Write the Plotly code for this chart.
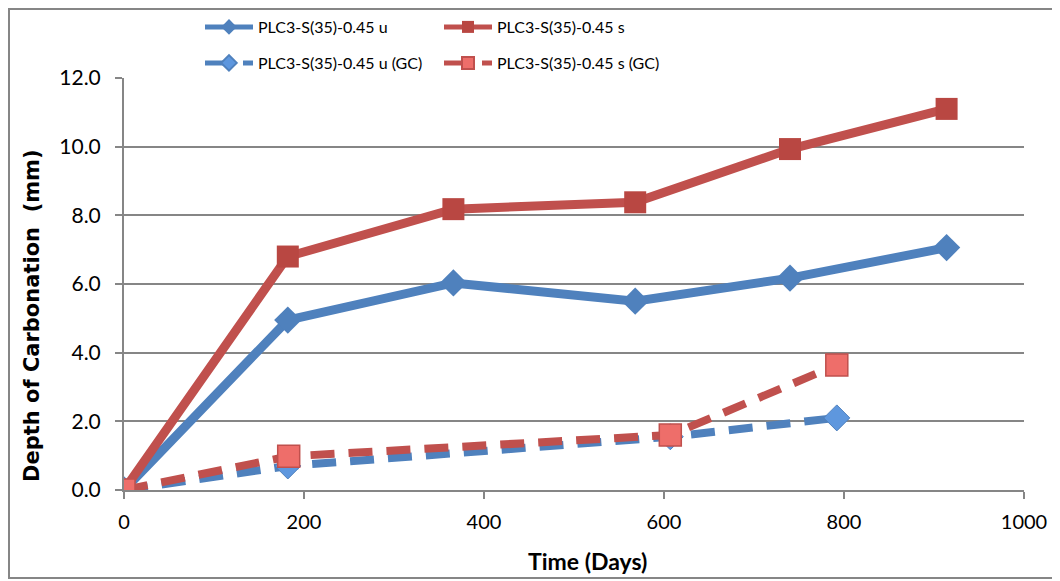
import plotly.graph_objects as go

# Data
days_u = [0, 182, 366, 568, 740, 914]
depth_u = [0.0, 4.95, 6.03, 5.50, 6.17, 7.06]

days_s = [0, 182, 366, 568, 740, 914]
depth_s = [0.0, 6.80, 8.18, 8.38, 9.93, 11.10]

days_u_gc = [0, 182, 607, 792]
depth_u_gc = [0.0, 0.70, 1.55, 2.10]

days_s_gc = [0, 183, 607, 792]
depth_s_gc = [0.0, 0.98, 1.60, 3.64]

names = ["PLC3-S(35)-0.45 u", "PLC3-S(35)-0.45 s",
         "PLC3-S(35)-0.45 u (GC)", "PLC3-S(35)-0.45 s (GC)"]

x_title = "Time (Days)"
y_title = "Depth of Carbonation  (mm)"

x_ticks = [0, 200, 400, 600, 800, 1000]
y_ticks = [0, 2, 4, 6, 8, 10, 12]

BLUE = "#4F81BD"
RED = "#C0504D"
HFONT = "Lato, sans-serif"
VFONT = "DejaVu Sans, sans-serif"

fig = go.Figure()
fig.add_trace(go.Scatter(
    x=days_u, y=depth_u, name=names[0], mode="lines+markers",
    line=dict(color=BLUE, width=9),
    marker=dict(symbol="diamond", size=21, color=BLUE),
    legend="legend"))
fig.add_trace(go.Scatter(
    x=days_s, y=depth_s, name=names[1], mode="lines+markers",
    line=dict(color=RED, width=9),
    marker=dict(symbol="square", size=22, color="#B94742"),
    legend="legend"))
fig.add_trace(go.Scatter(
    x=days_u_gc, y=depth_u_gc, name=names[2], mode="lines+markers",
    line=dict(color=BLUE, width=8, dash="24px,14px"),
    marker=dict(symbol="diamond", size=20, color="#5E97DE",
                line=dict(color="#4F81BD", width=1)),
    legend="legend2"))
fig.add_trace(go.Scatter(
    x=days_s_gc, y=depth_s_gc, name=names[3], mode="lines+markers",
    line=dict(color=RED, width=8, dash="24px,14px"),
    marker=dict(symbol="square", size=22, color="#EE6E6A",
                line=dict(color="#C0504D", width=1.5)),
    legend="legend2"))

# figure sits at an 8px page offset, so size/margins compensate for it
L, R, T, B = 116, 36, 70, 91
W, H = 1052, 573
PW, PH = W - L - R, H - T - B


def px_x(page_x):
    return (page_x - 8 - L) / PW


def px_y(page_y):
    return 1 + (T - (page_y - 8)) / PH


legend_common = dict(orientation="h", xanchor="left", yanchor="middle",
                     itemsizing="constant", entrywidth=176, itemwidth=48,
                     font=dict(family=HFONT, size=16), bgcolor="rgba(0,0,0,0)")

fig.update_layout(
    width=W, height=H,
    margin=dict(l=L, r=R, t=T, b=B, autoexpand=False),
    paper_bgcolor="white", plot_bgcolor="white",
    font=dict(family=HFONT, size=20, color="#000000"),
    showlegend=True,
    legend=dict(x=px_x(200), y=px_y(27), **legend_common),
    legend2=dict(x=px_x(200), y=px_y(63), **legend_common),
    xaxis=dict(range=[0, 1000], tickvals=x_ticks, ticks="outside", ticklen=7,
               tickcolor="#868686", tickwidth=2, showline=True, linecolor="#868686",
               linewidth=2, showgrid=False, zeroline=False,
               tickfont=dict(family=HFONT, size=20), ticklabelstandoff=6),
    yaxis=dict(range=[0, 12], tickvals=y_ticks, tickformat=".1f", ticks="outside",
               ticklen=7, tickcolor="#868686", tickwidth=2, showline=True,
               linecolor="#868686", linewidth=2, showgrid=True, gridcolor="#868686",
               gridwidth=2, zeroline=False,
               tickfont=dict(family=HFONT, size=21), ticklabelstandoff=10),
)

# axis titles placed where the reference has them
fig.add_annotation(text="<b>" + x_title + "</b>", xref="paper", yref="paper",
                   x=px_x(587), y=px_y(561), xanchor="center", yanchor="middle",
                   showarrow=False, font=dict(family=HFONT, size=23))
fig.add_annotation(text="<b>" + y_title + "</b>", xref="paper", yref="paper",
                   x=px_x(32), y=px_y(316), xanchor="center", yanchor="middle",
                   textangle=-90, showarrow=False, font=dict(family=VFONT, size=21))

# outer chart border
fig.add_shape(type="rect", xref="paper", yref="paper",
              x0=px_x(9), x1=px_x(1055), y0=px_y(578), y1=px_y(9),
              line=dict(color="#868686", width=2), fillcolor="rgba(0,0,0,0)",
              layer="below")

fig.write_html("out.html")
